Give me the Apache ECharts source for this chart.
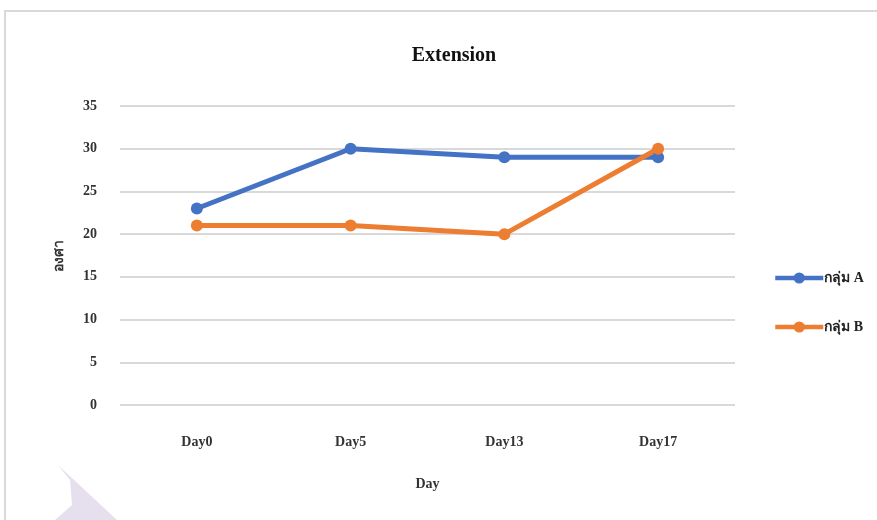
<!DOCTYPE html>
<html>
<head>
<meta charset="utf-8">
<script src="https://cdn.jsdelivr.net/npm/echarts@6/dist/echarts.min.js"></script>
<style>
html,body{margin:0;padding:0;background:#fff;}
#chart{width:877px;height:520px;}
</style>
</head>
<body>
<div id="chart"></div>
<script>
const categories = ['Day0', 'Day5', 'Day13', 'Day17'];
const seriesA = [23, 30, 29, 29];
const seriesB = [21, 21, 20, 30];
const seriesNames = ['กลุ่ม A', 'กลุ่ม B'];
const yTicks = [0, 5, 10, 15, 20, 25, 30, 35];

const FONT = "'Liberation Serif', 'Times New Roman', serif";
const chart = echarts.init(document.getElementById('chart'), null, {renderer: 'canvas'});
chart.setOption({
  animation: false,
  backgroundColor: '#ffffff',
  title: {
    text: 'Extension',
    left: 449, top: 41, textAlign: 'center',
    textStyle: {fontFamily: FONT, fontWeight: 'bold', fontSize: 20, color: '#111'}
  },
  graphic: [
    {type: 'rect', shape: {x: 5, y: 11, width: 900, height: 600}, style: {fill: 'none', stroke: '#d9d9d9', lineWidth: 2}, z: -10},
    {type: 'polygon', shape: {points: [[58,465],[117,520],[55,520],[72,505],[70,480]]}, style: {fill: '#e6e0ee'}, z: -10}
  ],
  legend: {
    orient: 'vertical',
    left: 768, top: 266,
    itemGap: 35,
    itemWidth: 48, itemHeight: 14,
    data: seriesNames,
    lineStyle: {width: 4.5},
    textStyle: {fontFamily: FONT, fontWeight: 'bold', fontSize: 14, color: '#222', padding: [0,0,0,-4]}
  },
  grid: {left: 120, right: 142, top: 106, bottom: 115},
  xAxis: {
    type: 'category',
    data: categories,
    boundaryGap: true,
    name: 'Day', nameLocation: 'middle', nameGap: 72,
    nameTextStyle: {fontFamily: FONT, fontWeight: 'bold', fontSize: 14, color: '#333'},
    axisLine: {show: false}, axisTick: {show: false},
    axisLabel: {margin: 30, fontFamily: FONT, fontWeight: 'bold', fontSize: 14, color: '#333'}
  },
  yAxis: {
    type: 'value',
    min: yTicks[0], max: yTicks[yTicks.length - 1], interval: 5,
    name: 'องศา', nameLocation: 'middle', nameGap: 54, nameRotate: 90,
    nameTextStyle: {fontFamily: FONT, fontWeight: 'bold', fontSize: 14, color: '#333'},
    axisLine: {show: false}, axisTick: {show: false},
    axisLabel: {margin: 23, fontFamily: FONT, fontWeight: 'bold', fontSize: 14, color: '#333'},
    splitLine: {lineStyle: {color: '#d9d9d9', width: 2}}
  },
  series: [
    {name: seriesNames[0], type: 'line', data: seriesA, symbol: 'circle', symbolSize: 12,
     lineStyle: {width: 5, color: '#4472C4'}, itemStyle: {color: '#4472C4'}},
    {name: seriesNames[1], type: 'line', data: seriesB, symbol: 'circle', symbolSize: 12,
     lineStyle: {width: 5, color: '#ED7D31'}, itemStyle: {color: '#ED7D31'}}
  ]
});
</script>
</body>
</html>
